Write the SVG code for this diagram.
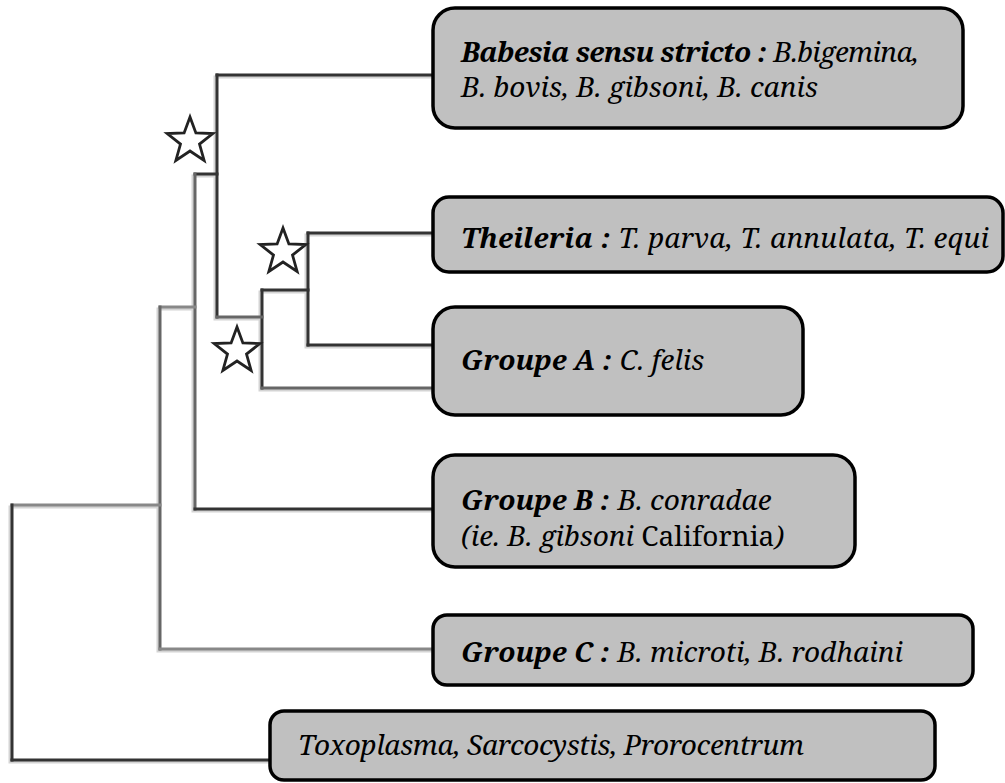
<svg xmlns="http://www.w3.org/2000/svg" width="1005" height="783" viewBox="0 0 1005 783">
  <style>
    .box { fill: #c0c0c0; stroke: #000; stroke-width: 3.5; }
    .lbl { font-family: "Noto Serif", "DejaVu Serif", serif; font-size: 28px; font-style: italic; fill: #000; }
    .hd { font-weight: bold; }
    .up { font-style: normal; }
    .sh { fill: none; stroke: #d4d4d4; stroke-width: 3; stroke-linecap: square; }
    .dk { fill: none; stroke: #333; stroke-width: 3; stroke-linecap: square; }
    .md { fill: none; stroke: #666; stroke-width: 3; stroke-linecap: square; }
    .gr { fill: none; stroke: #888; stroke-width: 3; stroke-linecap: square; }
    .star { fill: #fff; stroke: #222; stroke-width: 2.8; stroke-linejoin: miter; }
  </style>
  <defs>
    <polygon id="starShape" points="0,-24 5.88,-8.09 22.83,-7.42 9.51,3.09 14.11,19.42 0,10 -14.11,19.42 -9.51,3.09 -22.83,-7.42 -5.88,-8.09"/>
  </defs>
  <rect width="1005" height="783" fill="#fff"/>

  <!-- tree branches: a soft shadow under each stroke -->
  <g id="connectors">
    <g transform="translate(-2,2)">
      <path class="sh" d="M217,75 H433 M217,75 V317 M195,174 H217 M308,233 H433 M308,233 V345 M262,290 H308 M262,290 V388 M217,317 H262 M308,345 H433 M262,388 H433 M195,174 V509 M195,509 H433 M160,307 H195 M160,307 V649 M160,649 H433 M12,505 H160 M12,505 V760 M12,760 H270"/>
    </g>
    <path class="dk" d="M217,75 H433"/>
    <path class="dk" d="M217,75 V317"/>
    <path class="dk" d="M195,174 H217"/>
    <path class="md" d="M195,174 V509"/>
    <path class="dk" d="M308,233 H433"/>
    <path class="dk" d="M308,233 V345"/>
    <path class="dk" d="M262,290 H308"/>
    <path class="dk" d="M262,290 V388"/>
    <path class="md" d="M217,317 H262"/>
    <path class="dk" d="M308,345 H433"/>
    <path class="md" d="M262,388 H433"/>
    <path class="dk" d="M195,509 H433"/>
    <path class="gr" d="M160,307 H195"/>
    <path class="md" d="M160,307 V649"/>
    <path class="gr" d="M160,649 H433"/>
    <path class="gr" d="M12,505 H160"/>
    <path class="dk" d="M12,505 V760"/>
    <path class="dk" d="M12,760 H270"/>
  </g>

  <!-- node support markers -->
  <g id="stars">
    <use href="#starShape" class="star" x="190" y="141"/>
    <use href="#starShape" class="star" x="283" y="252"/>
    <use href="#starShape" class="star" x="237" y="351"/>
  </g>

  <g id="babesia">
    <rect class="box" x="433" y="8" width="530" height="120" rx="22"/>
    <text class="lbl" x="461" y="62" textLength="458"><tspan class="hd">Babesia sensu stricto : </tspan>B.bigemina,</text>
    <text class="lbl" x="461" y="97">B. bovis, B. gibsoni, B. canis</text>
  </g>

  <g id="theileria">
    <rect class="box" x="433" y="197" width="570" height="75" rx="16"/>
    <text class="lbl" x="461" y="248" textLength="528"><tspan class="hd">Theileria : </tspan>T. parva, T. annulata, T. equi</text>
  </g>

  <g id="groupeA">
    <rect class="box" x="433" y="307" width="370" height="108" rx="22"/>
    <text class="lbl" x="461" y="370"><tspan class="hd">Groupe A : </tspan>C. felis</text>
  </g>

  <g id="groupeB">
    <rect class="box" x="433" y="455" width="422" height="112" rx="22"/>
    <text class="lbl" x="461" y="510"><tspan class="hd">Groupe B : </tspan>B. conradae</text>
    <text class="lbl" x="461" y="546">(ie. B. gibsoni <tspan class="up">California</tspan>)</text>
  </g>

  <g id="groupeC">
    <rect class="box" x="433" y="615" width="540" height="70" rx="14"/>
    <text class="lbl" x="461" y="662"><tspan class="hd">Groupe C : </tspan>B. microti, B. rodhaini</text>
  </g>

  <g id="outgroup">
    <rect class="box" x="270" y="711" width="665" height="69" rx="14"/>
    <text class="lbl" x="298" y="755" textLength="506">Toxoplasma, Sarcocystis, Prorocentrum</text>
  </g>
</svg>
